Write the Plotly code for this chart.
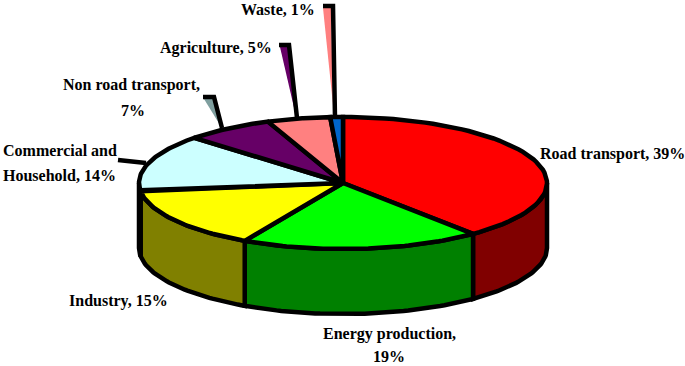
import numpy as np
import plotly.graph_objects as go

categories = ["Road transport", "Energy production", "Industry", "Commercial and Household",
              "Non road transport", "Agriculture", "Waste"]
values = [39, 19, 15, 14, 7, 5, 1]
top_colors = ["#ff0000", "#00ff00", "#ffff00", "#ccffff", "#660066", "#ff8080", "#0066cc"]
side_colors = ["#800000", "#008000", "#808000", "#668080", "#330033", "#804040", "#003366"]
label_lines = [
    ("Road transport, 39%", 612.5, 154),
    ("Energy production,", 389, 334),
    ("19%", 389, 356.5),
    ("Industry, 15%", 118, 301),
    ("Commercial and", 59.5, 150),
    ("Household, 14%", 59, 175),
    ("Non road transport,", 131, 85),
    ("7%", 133, 110),
    ("Agriculture, 5%", 215.5, 48),
    ("Waste, 1%", 278, 9.5),
]

CX, CY, A, B, DEPTH = 343, 183, 204, 66, 65
LW = 4.5


def rim(t_deg, dy=0):
    t = np.radians(t_deg)
    return CX + A * np.sin(t), CY - B * np.cos(t) + dy


fig = go.Figure()
edges = np.cumsum([0] + values) * 3.6


def poly(xs, ys, fill, width=LW):
    fig.add_trace(go.Scatter(x=list(xs), y=list(ys), mode="lines", fill="toself", fillcolor=fill,
                             line=dict(color="black", width=width), hoverinfo="skip", showlegend=False))


# front walls of the cylinder (only the part between 90 and 270 degrees is visible)
for i in range(len(values)):
    lo, hi = max(edges[i], 90), min(edges[i + 1], 270)
    if hi <= lo:
        continue
    ts = np.linspace(lo, hi, 50)
    xt, yt = rim(ts)
    xb, yb = rim(ts[::-1], DEPTH)
    poly(np.r_[xt, xb, xt[0]], np.r_[yt, yb, yt[0]], side_colors[i])

# top surface slices
for i in range(len(values)):
    ts = np.linspace(edges[i], edges[i + 1], 60)
    xt, yt = rim(ts)
    poly(np.r_[CX, xt, CX], np.r_[CY, yt, CY], top_colors[i])

# leader lines with their shaded flags
leaders = [
    dict(line=[(146, 163), (118, 160)], flag=None),
    dict(line=[(222, 128), (214, 97), (203, 97)], flag=([204, 213, 220], [99, 99, 125], "#7f9f9f")),
    dict(line=[(297, 118), (289, 45), (279, 45)], flag=([280, 288, 295], [47, 47, 112], "#660066")),
    dict(line=[(335, 118), (333, 6), (323, 6)], flag=([323, 331, 333], [8, 8, 105], "#ff8080")),
]
for l in leaders:
    if l["flag"]:
        xs, ys, c = l["flag"]
        fig.add_trace(go.Scatter(x=xs + xs[:1], y=ys + ys[:1], mode="lines", fill="toself", fillcolor=c,
                                 line=dict(color=c, width=0), hoverinfo="skip", showlegend=False))
    fig.add_trace(go.Scatter(x=[p[0] for p in l["line"]], y=[p[1] for p in l["line"]], mode="lines",
                             line=dict(color="black", width=LW), hoverinfo="skip", showlegend=False))

for text, x, y in label_lines:
    fig.add_annotation(x=x, y=y, xref="x", yref="y", text=f"<b>{text}</b>", showarrow=False, align="center",
                       font=dict(family="Liberation Serif", size=16, color="black"))

fig.update_layout(
    width=685, height=366, margin=dict(l=0, r=0, t=0, b=0), paper_bgcolor="white", plot_bgcolor="white",
    showlegend=False,
    xaxis=dict(range=[0, 685], visible=False, fixedrange=True),
    yaxis=dict(range=[366, 0], visible=False, fixedrange=True),
)
fig.write_html("out.html", config={"displayModeBar": False},
               post_script="document.body.style.margin='0';document.documentElement.style.overflow='hidden';")
